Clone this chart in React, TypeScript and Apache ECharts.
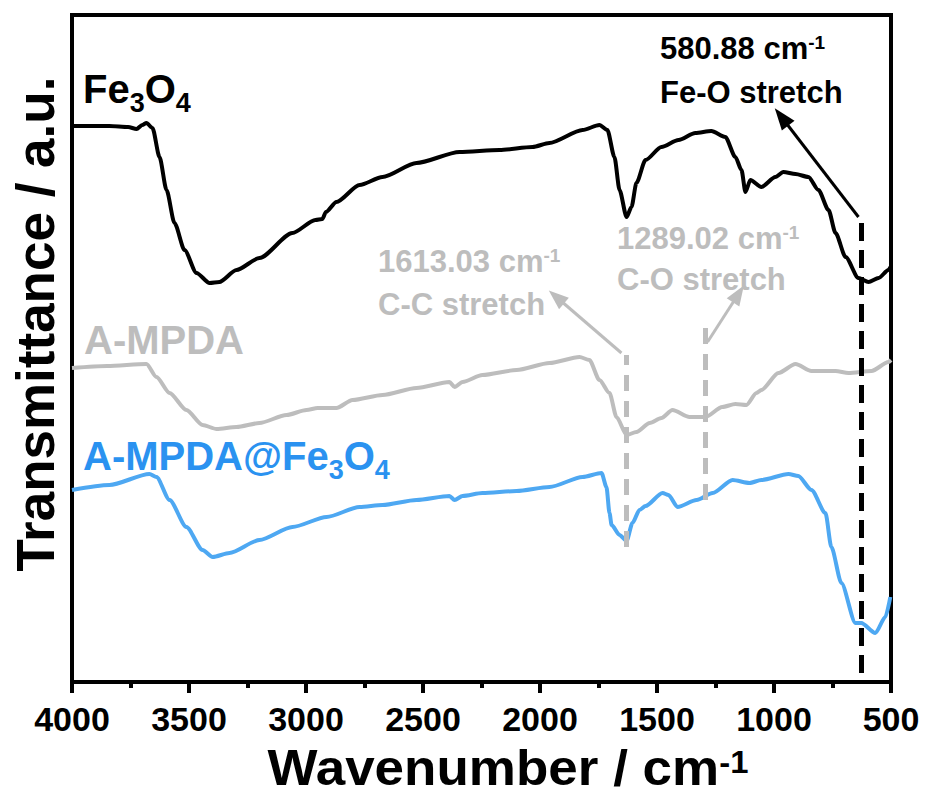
import React, { useEffect, useRef } from "react";
import * as echarts from "echarts";

const FONT = '"Liberation Sans", Arial, Helvetica, sans-serif';

// Axis
const X_MIN = 500;
const X_MAX = 4000;
const X_STEP = 500;
const Y_MIN = 0;
const Y_MAX = 667;

// Fe3O4 (black)
const FE3O4_WN = [4000, 3920, 3840, 3760, 3724, 3700, 3682, 3656, 3626, 3596, 3562, 3519, 3468, 3412, 3370, 3297, 3199, 3058, 2960, 2930, 2915, 2870, 2771, 2673, 2528, 2344, 2173, 2032, 1960, 1818, 1746, 1712, 1682, 1660, 1630, 1609, 1588, 1549, 1481, 1408, 1336, 1268, 1208, 1165, 1139, 1122, 1101, 1054, 994, 960, 908, 853, 810, 767, 737, 694, 639, 596, 553, 511, 500];
const FE3O4_T = [556, 556, 556, 555, 553, 557, 559, 554, 525, 492, 459, 432, 409, 399, 400, 412, 424, 449, 462, 463, 470, 480, 497, 505, 519, 530, 532, 535, 539, 552, 557, 552, 525, 492, 465, 475, 499, 522, 535, 542, 549, 551, 545, 525, 512, 490, 502, 495, 505, 510, 508, 505, 492, 472, 449, 425, 404, 400, 404, 412, 416];

// A-MPDA (grey)
const AMPDA_WN = [4000, 3850, 3682, 3639, 3583, 3511, 3442, 3382, 3297, 3199, 3083, 2998, 2950, 2870, 2801, 2673, 2528, 2387, 2365, 2331, 2246, 2100, 1959, 1831, 1789, 1746, 1703, 1673, 1630, 1588, 1531, 1481, 1434, 1361, 1293, 1221, 1165, 1118, 1075, 1054, 981, 908, 840, 737, 682, 583, 511, 500];
const AMPDA_T = [314, 316, 318, 305, 289, 272, 257, 253, 255, 259, 267, 272, 274, 274, 282, 287, 294, 300, 295, 300, 307, 312, 319, 325, 322, 302, 289, 265, 247, 250, 259, 264, 272, 265, 265, 275, 278, 277, 289, 292, 309, 318, 311, 311, 309, 311, 320, 322];

// A-MPDA@Fe3O4 (blue)
const COMP_WN = [4000, 3840, 3669, 3639, 3583, 3511, 3442, 3399, 3327, 3199, 3058, 2912, 2771, 2673, 2528, 2387, 2365, 2331, 2246, 2100, 1959, 1818, 1737, 1716, 1703, 1694, 1660, 1630, 1605, 1575, 1549, 1476, 1451, 1412, 1331, 1262, 1177, 1105, 1054, 938, 896, 840, 780, 755, 712, 652, 627, 567, 524, 503];
const COMP_T = [192, 197, 208, 205, 182, 155, 132, 125, 129, 142, 155, 165, 175, 177, 182, 186, 182, 186, 189, 191, 195, 205, 209, 195, 169, 157, 147, 141, 159, 172, 176, 189, 187, 175, 182, 189, 202, 199, 202, 208, 206, 192, 169, 135, 99, 59, 59, 49, 65, 85];

// Annotation guide lines [wavenumber, value]
const FEO_DASH = [[626, 9], [626, 464]];
const FEO_ARROW = [[639, 465], [968, 565]];
const CC_DASH = [[1630, 135], [1630, 327]];
const CC_ARROW = [[1652, 329], [1930, 385]];
const CO_DASH = [[1292, 182], [1292, 355]];
const CO_ARROW = [[1284, 340], [1152, 388]];

// Texts
const SERIES_NAMES = ["Fe3O4", "A-MPDA", "A-MPDA@Fe3O4"];
const PEAK_VALUES = ["580.88", "1613.03", "1289.02"];
const PEAK_MODES = ["Fe-O stretch", "C-C stretch", "C-O stretch"];

const BLACK = "#000000";
const GREY = "#BDBDBD";
const BLUE_LINE = "#4EA8F2";
const BLUE_TEXT = "#2A92F0";

const pair = (xs: number[], ys: number[]) => xs.map((x, i) => [x, ys[i]]);

const dashLine = (pts: number[][], color: string, width: number, dash: number[]) => [
  { coord: pts[0], symbol: "none", lineStyle: { color, width, type: dash } },
  { coord: pts[1], symbol: "none" },
];
const arrowLine = (pts: number[][], color: string, width: number, size: number[]) => [
  { coord: pts[0], symbol: "none", lineStyle: { color, width, type: "solid" } },
  { coord: pts[1], symbol: "triangle", symbolSize: size },
];

const txt = (x: number, y: number, text: string, fontSize: number, fill: string, extra: any = {}) => {
  const { align, lineHeight, ...rest } = extra;
  return {
    type: "text",
    x,
    y,
    silent: true,
    ...rest,
    style: {
      text,
      fill,
      fontSize,
      fontWeight: "bold",
      fontFamily: FONT,
      align: align || "left",
      verticalAlign: "middle",
      lineHeight: lineHeight || fontSize,
      rich: {
        sub: { fontSize: Math.round(fontSize * 0.68), fontWeight: "bold", fontFamily: FONT, fill, verticalAlign: "bottom" },
        sup: { fontSize: Math.round(fontSize * 0.62), fontWeight: "bold", fontFamily: FONT, fill, verticalAlign: "top" },
      },
    },
  };
};

export default function App() {
  const ref = useRef<HTMLDivElement>(null);
  useEffect(() => {
    if (!ref.current) return;
    const chart = echarts.init(ref.current, null, { renderer: "svg" });
    const markCommon = { silent: true, label: { show: false }, emphasis: { disabled: true }, animation: false };
    const lineCommon = { type: "line", showSymbol: false, smooth: 0.25, smoothMonotone: "x" };
    const option: any = {
      animation: false,
      grid: { left: 72, right: 38, top: 15, bottom: 114, show: true, borderColor: BLACK, borderWidth: 4 },
      xAxis: {
        type: "value",
        inverse: true,
        min: X_MIN,
        max: X_MAX,
        interval: X_STEP,
        axisLine: { show: true, onZero: false, lineStyle: { color: BLACK, width: 4 } },
        axisTick: { show: true, inside: false, length: 11, lineStyle: { color: BLACK, width: 4 } },
        minorTick: { show: true, splitNumber: 2, length: 6, lineStyle: { color: BLACK, width: 4 } },
        axisLabel: {
          margin: 22,
          fontSize: 34,
          lineHeight: 30,
          fontWeight: "bold",
          color: BLACK,
          fontFamily: FONT,
          formatter: (v: number) => String(v),
        },
        splitLine: { show: false },
        minorSplitLine: { show: false },
      },
      yAxis: {
        type: "value",
        min: Y_MIN,
        max: Y_MAX,
        axisLine: { show: true, lineStyle: { color: BLACK, width: 4 } },
        axisTick: { show: false },
        axisLabel: { show: false },
        splitLine: { show: false },
      },
      series: [
        {
          ...lineCommon,
          name: SERIES_NAMES[0],
          data: pair(FE3O4_WN, FE3O4_T),
          lineStyle: { color: BLACK, width: 4 },
          markLine: {
            ...markCommon,
            data: [dashLine(FEO_DASH, BLACK, 5, [18, 9]), arrowLine(FEO_ARROW, BLACK, 3, [16, 22])],
          },
        },
        {
          ...lineCommon,
          name: SERIES_NAMES[1],
          data: pair(AMPDA_WN, AMPDA_T),
          lineStyle: { color: GREY, width: 4 },
          markLine: {
            ...markCommon,
            data: [
              dashLine(CC_DASH, GREY, 5, [16, 10]),
              dashLine(CO_DASH, GREY, 5, [16, 10]),
              arrowLine(CC_ARROW, GREY, 3, [15, 20]),
              arrowLine(CO_ARROW, GREY, 3, [15, 20]),
            ],
          },
        },
        {
          ...lineCommon,
          name: SERIES_NAMES[2],
          data: pair(COMP_WN, COMP_T),
          lineStyle: { color: BLUE_LINE, width: 4 },
        },
      ],
      graphic: [
        txt(83, 89, "Fe{sub|3}O{sub|4}", 40, BLACK, { lineHeight: 54 }),
        txt(84, 340, SERIES_NAMES[1], 40, GREY),
        txt(83, 456, "A-MPDA@Fe{sub|3}O{sub|4}", 40, BLUE_TEXT, { lineHeight: 54 }),
        txt(660, 48, PEAK_VALUES[0] + " cm{sup|-1}", 31, BLACK),
        txt(660, 92, PEAK_MODES[0], 31, BLACK),
        txt(378, 261, PEAK_VALUES[1] + " cm{sup|-1}", 31, GREY),
        txt(378, 304, PEAK_MODES[1], 31, GREY),
        txt(617, 238, PEAK_VALUES[2] + " cm{sup|-1}", 31, GREY),
        txt(617, 279, PEAK_MODES[2], 31, GREY),
        txt(508, 768, "Wavenumber / cm{sup|-1}", 50, BLACK, { align: "center", lineHeight: 42, scaleX: 1.06 }),
        txt(35, 324, "Transmittance / a.u.", 53, BLACK, { align: "center", rotation: Math.PI / 2 }),
      ],
    };
    chart.setOption(option);
    return () => chart.dispose();
  }, []);
  return (
    <div
      ref={ref}
      style={{ position: "fixed", left: 0, top: 0, width: 929, height: 796, background: "#fff" }}
    />
  );
}
